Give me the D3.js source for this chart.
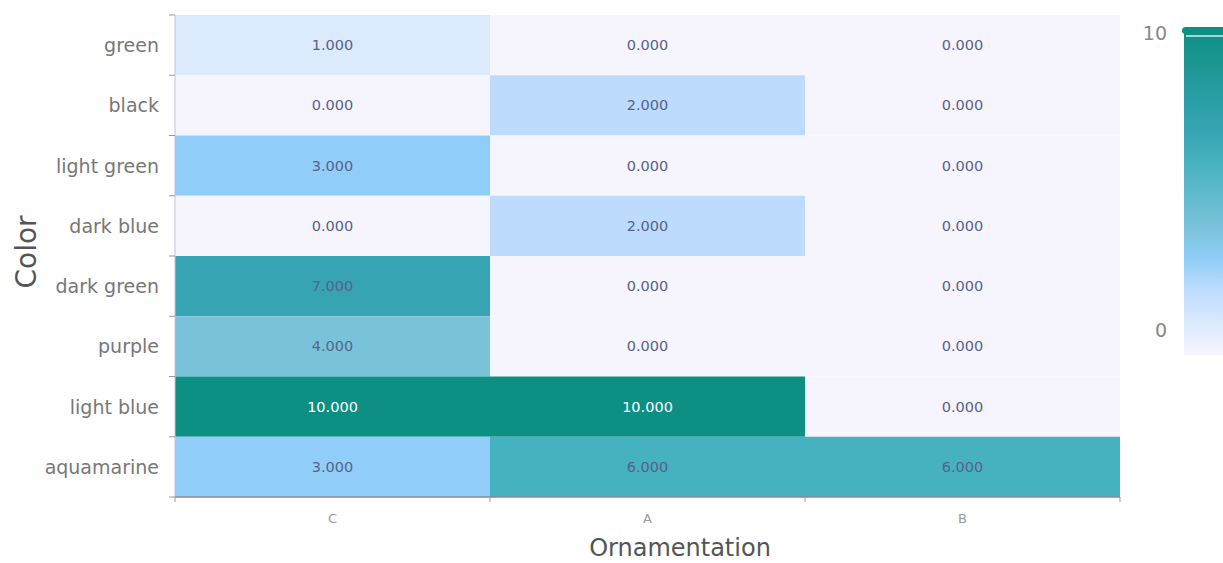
<!DOCTYPE html>
<html>
<head>
<meta charset="utf-8">
<script src="https://cdn.jsdelivr.net/npm/d3@7"></script>
<style>
  html, body { margin: 0; padding: 0; background: #fff; }
  svg { display: block; font-family: "DejaVu Sans", "Noto Sans", sans-serif; }
</style>
</head>
<body>
<svg id="chart" width="1223" height="563"></svg>
<script>
// Heatmap data: colour names (rows) by ornamentation type (columns)
const ornamentations = ["C", "A", "B"];
const colors = ["green", "black", "light green", "dark blue", "dark green", "purple", "light blue", "aquamarine"];
const valuesC = [1, 0, 3, 0, 7, 4, 10, 3];
const valuesA = [0, 2, 0, 2, 0, 0, 10, 6];
const valuesB = [0, 0, 0, 0, 0, 0, 0, 6];
const legendTicks = [0, 10];

// Colour ramp stops for the continuous scale
const rampDomain = [0, 1, 2, 3, 4, 6, 7, 10];
const rampColors = ["#f6f5fd", "#dbeafd", "#bddcfd", "#90cdf8", "#79c3da", "#46b1bf", "#36a4b3", "#0e8f83"];

const columns = { C: valuesC, A: valuesA, B: valuesB };
const cells = [];
ornamentations.forEach(o => colors.forEach((c, i) => cells.push({ x: o, y: c, v: columns[o][i] })));

const svg = d3.select("#chart");
const margin = { left: 175, right: 1120, top: 15, bottom: 497 };

const x = d3.scaleBand().domain(ornamentations).range([margin.left, margin.right]);
const y = d3.scaleBand().domain(colors).range([margin.top, margin.bottom]);
const color = d3.scaleLinear().domain(rampDomain).range(rampColors).interpolate(d3.interpolateRgb);

// cells
svg.append("g").selectAll("rect").data(cells).join("rect")
  .attr("x", d => x(d.x))
  .attr("y", d => y(d.y))
  .attr("width", x.bandwidth())
  .attr("height", y.bandwidth())
  .attr("fill", d => color(d.v));

// value labels
svg.append("g").selectAll("text").data(cells).join("text")
  .attr("x", d => x(d.x) + x.bandwidth() / 2)
  .attr("y", d => y(d.y) + y.bandwidth() / 2)
  .attr("text-anchor", "middle")
  .attr("dominant-baseline", "central")
  .attr("font-size", 14.5)
  .attr("fill", d => d.v >= 9 ? "#ffffff" : "#56628a")
  .text(d => d3.format(".3f")(d.v));

// y axis with ticks at band boundaries
const yAxis = svg.append("g").attr("transform", `translate(${margin.left},0)`);
yAxis.append("line")
  .attr("x1", 0).attr("x2", 0)
  .attr("y1", margin.top).attr("y2", margin.bottom)
  .attr("stroke", "#c4c4d4");
yAxis.selectAll("line.tick").data(colors.concat(["__end"])).join("line")
  .attr("x1", -6).attr("x2", 0)
  .attr("y1", (d, i) => i < colors.length ? y(d) : margin.bottom)
  .attr("y2", (d, i) => i < colors.length ? y(d) : margin.bottom)
  .attr("stroke", "#999");
yAxis.selectAll("text").data(colors).join("text")
  .attr("x", -16)
  .attr("y", d => y(d) + y.bandwidth() / 2)
  .attr("text-anchor", "end")
  .attr("dominant-baseline", "central")
  .attr("font-size", 19)
  .attr("fill", "#777")
  .text(d => d);

// x axis
const xAxis = svg.append("g").attr("transform", `translate(0,${margin.bottom})`);
xAxis.append("line")
  .attr("x1", margin.left).attr("x2", margin.right)
  .attr("y1", 0).attr("y2", 0)
  .attr("stroke", "#8a8a9a").attr("stroke-width", 1.5);
xAxis.selectAll("line.tick").data(ornamentations.concat(["__end"])).join("line")
  .attr("x1", (d, i) => i < ornamentations.length ? x(d) : margin.right)
  .attr("x2", (d, i) => i < ornamentations.length ? x(d) : margin.right)
  .attr("y1", 0).attr("y2", 5)
  .attr("stroke", "#999");
xAxis.selectAll("text").data(ornamentations).join("text")
  .attr("x", d => x(d) + x.bandwidth() / 2)
  .attr("y", 26)
  .attr("text-anchor", "middle")
  .attr("font-size", 13)
  .attr("fill", "#999")
  .text(d => d);

// axis titles
svg.append("text")
  .attr("x", 680)
  .attr("y", 556)
  .attr("text-anchor", "middle")
  .attr("font-size", 24)
  .attr("fill", "#555")
  .text("Ornamentation");
svg.append("text")
  .attr("transform", `translate(26,252) rotate(-90)`)
  .attr("text-anchor", "middle")
  .attr("dominant-baseline", "central")
  .attr("font-size", 28)
  .attr("fill", "#555")
  .text("Color");

// continuous colour legend
const legTop = 32, legBottom = 355, legX = 1184, legW = 45;
const defs = svg.append("defs");
const grad = defs.append("linearGradient").attr("id", "ramp")
  .attr("x1", 0).attr("y1", 1).attr("x2", 0).attr("y2", 0);
rampDomain.forEach((v, i) => grad.append("stop")
  .attr("offset", v / 10)
  .attr("stop-color", rampColors[i]));
svg.append("rect")
  .attr("x", legX).attr("y", legTop)
  .attr("width", legW).attr("height", legBottom - legTop)
  .attr("fill", "url(#ramp)");
// top handle
svg.append("rect")
  .attr("x", legX - 2).attr("y", legTop - 5)
  .attr("width", legW + 4).attr("height", 7)
  .attr("rx", 3.5)
  .attr("fill", "#0e8f83");
svg.append("line")
  .attr("x1", legX + 2).attr("x2", legX + legW)
  .attr("y1", legTop + 4).attr("y2", legTop + 4)
  .attr("stroke", "#d6f0ec").attr("stroke-width", 1.5);

const legScale = d3.scaleLinear().domain([0, 10]).range([330, 33]);
svg.append("g").selectAll("text").data(legendTicks).join("text")
  .attr("x", 1167)
  .attr("y", d => legScale(d))
  .attr("text-anchor", "end")
  .attr("dominant-baseline", "central")
  .attr("font-size", 19)
  .attr("fill", "#888")
  .text(d => d);
</script>
</body>
</html>
